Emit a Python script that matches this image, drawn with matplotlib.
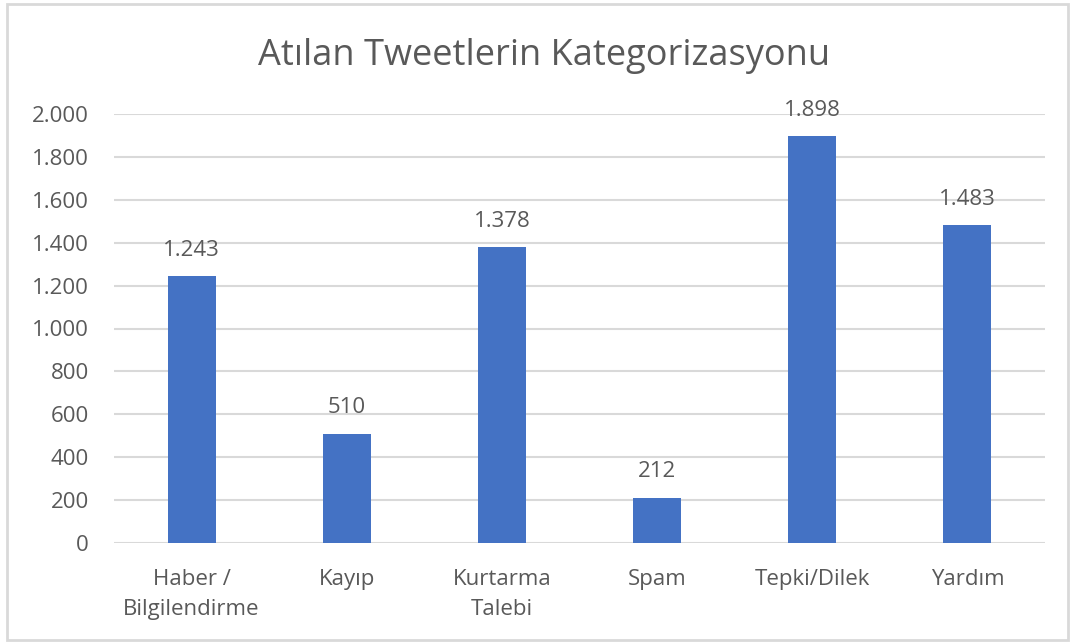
import matplotlib
matplotlib.use("Agg")
import matplotlib.pyplot as plt
from matplotlib.patches import Rectangle

categories = ["Haber /\nBilgilendirme", "Kayıp", "Kurtarma\nTalebi", "Spam", "Tepki/Dilek", "Yardım"]
values = [1243, 510, 1378, 212, 1898, 1483]
yticks = [0, 200, 400, 600, 800, 1000, 1200, 1400, 1600, 1800, 2000]
title = "Atılan Tweetlerin Kategorizasyonu"

def fmt(v):
    return f"{v:,}".replace(",", ".")

plt.rcParams['font.family'] = ['Open Sans', 'DejaVu Sans']
TXT = "#595959"
BAR = "#4472C4"
GRID = "#D9D9D9"
FS = 16

fig = plt.figure(figsize=(10.75, 6.44), dpi=100)
fig.patches.append(Rectangle((7/1075, 4/644), (1068-7)/1075, (640-4)/644,
                             transform=fig.transFigure, fill=False,
                             edgecolor="#D9D9D9", linewidth=2))
ax = fig.add_axes([114/1075, 1-543/644, (1045-114)/1075, (543-114)/644])
x = list(range(len(categories)))
ax.bar(x, values, width=0.31, color=BAR, zorder=3)
ax.set_xlim(-0.5, len(categories)-0.5)
ax.set_ylim(0, 2000)
ax.set_yticks(yticks)
ax.set_yticklabels([fmt(v) for v in yticks])
ax.set_xticks(x)
ax.set_xticklabels(categories, linespacing=1.55)
ax.yaxis.grid(True, color=GRID, linewidth=1.5, zorder=0)
for s in ["top", "right", "left", "bottom"]:
    ax.spines[s].set_visible(False)
ax.tick_params(axis="both", length=0, labelsize=FS, colors=TXT)
ax.tick_params(axis="y", pad=18)
ax.tick_params(axis="x", pad=19)
for xi, v in zip(x, values):
    ax.annotate(fmt(v), (xi, v), xytext=(0, 11), textcoords="offset points",
                ha="center", va="bottom", fontsize=FS, color=TXT)
fig.text(544/1075, 1-56/644, title, ha="center", va="center", fontsize=26, color=TXT)
fig.savefig("out.png", dpi=100)
